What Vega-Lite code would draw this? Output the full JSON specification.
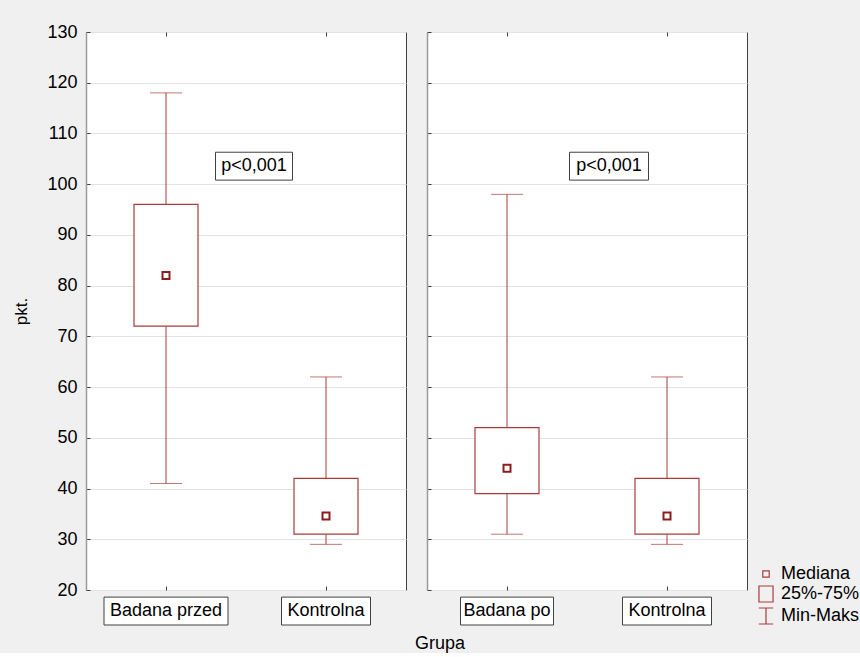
{
  "$schema": "https://vega.github.io/schema/vega-lite/v6.json",
  "background": "#f0f0f0",
  "padding": {"left": 12, "top": 22, "right": 0, "bottom": 0},
  "datasets": {
    "boxes": [
      {"panel": "A", "grp": "Badana przed", "min": 41, "q1": 72, "med": 82, "q3": 96, "max": 118},
      {"panel": "A", "grp": "Kontrolna", "min": 29, "q1": 31, "med": 34.6, "q3": 42, "max": 62},
      {"panel": "B", "grp": "Badana po", "min": 31, "q1": 39, "med": 44, "q3": 52, "max": 98},
      {"panel": "B", "grp": "Kontrolna", "min": 29, "q1": 31, "med": 34.6, "q3": 42, "max": 62}
    ],
    "annot": [{"label": "p<0,001"}],
    "leg": [{"leg": "Mediana"}, {"leg": "25%-75%"}, {"leg": "Min-Maks"}]
  },
  "title": {"text": "Grupa", "orient": "bottom", "anchor": "middle", "frame": "group", "fontSize": 18, "fontWeight": "normal", "color": "#000000", "offset": 8, "dx": 354},
  "spacing": 19,
  "hconcat": [
    {
      "width": 320,
      "height": 558,
      "resolve": {"axis": {"x": "independent"}},
      "layer": [
        {
          "layer": [
            {
              "data": {"name": "boxes"},
              "transform": [{"filter": "datum.panel === 'A'"}],
              "mark": {"type": "rule", "color": "#a83c3c", "strokeWidth": 1},
              "encoding": {
                "x": {"field": "grp", "type": "nominal", "sort": null, "title": null, "scale": {"paddingInner": 0, "paddingOuter": 0}},
                "y": {"field": "min", "type": "quantitative", "title": "pkt.", "scale": {"domain": [20, 130], "nice": false, "zero": false}},
                "y2": {"field": "max"}
              }
            },
            {
              "data": {"name": "boxes"},
              "transform": [{"filter": "datum.panel === 'A'"}],
              "mark": {"type": "tick", "color": "#a83c3c", "size": 32, "thickness": 1},
              "encoding": {
                "x": {"field": "grp", "type": "nominal", "sort": null, "title": null},
                "y": {"field": "min", "type": "quantitative", "title": "pkt."}
              }
            },
            {
              "data": {"name": "boxes"},
              "transform": [{"filter": "datum.panel === 'A'"}],
              "mark": {"type": "tick", "color": "#a83c3c", "size": 32, "thickness": 1},
              "encoding": {
                "x": {"field": "grp", "type": "nominal", "sort": null, "title": null},
                "y": {"field": "max", "type": "quantitative", "title": "pkt."}
              }
            },
            {
              "data": {"name": "boxes"},
              "transform": [{"filter": "datum.panel === 'A'"}],
              "mark": {"type": "bar", "width": 64, "fill": "#ffffff", "stroke": "#a83c3c", "strokeWidth": 1.2},
              "encoding": {
                "x": {"field": "grp", "type": "nominal", "sort": null, "title": null},
                "y": {"field": "q1", "type": "quantitative", "title": "pkt."},
                "y2": {"field": "q3"}
              }
            },
            {
              "data": {"name": "boxes"},
              "transform": [{"filter": "datum.panel === 'A'"}],
              "mark": {"type": "point", "shape": "square", "size": 49, "filled": false, "fill": "#ffffff", "stroke": "#8b1d1d", "strokeWidth": 2, "opacity": 1},
              "encoding": {
                "x": {"field": "grp", "type": "nominal", "sort": null, "title": null},
                "y": {"field": "med", "type": "quantitative", "title": "pkt."}
              }
            },
            {
              "data": {"name": "boxes"},
              "transform": [{"filter": "datum.panel === 'A' && datum.grp === 'Badana przed'"}],
              "mark": {"type": "bar", "width": 124, "fill": "#ffffff", "stroke": "#404040", "strokeWidth": 1},
              "encoding": {
                "x": {"field": "grp", "type": "nominal", "sort": null, "title": null},
                "y": {"datum": 18.6, "type": "quantitative", "title": "pkt."},
                "y2": {"datum": 13.1}
              }
            },
            {
              "data": {"name": "boxes"},
              "transform": [{"filter": "datum.panel === 'A' && datum.grp === 'Kontrolna'"}],
              "mark": {"type": "bar", "width": 89, "fill": "#ffffff", "stroke": "#404040", "strokeWidth": 1},
              "encoding": {
                "x": {"field": "grp", "type": "nominal", "sort": null, "title": null},
                "y": {"datum": 18.6, "type": "quantitative", "title": "pkt."},
                "y2": {"datum": 13.1}
              }
            },
            {
              "data": {"name": "boxes"},
              "transform": [{"filter": "datum.panel === 'A'"}],
              "mark": {"type": "text", "fontSize": 18, "color": "#000000", "baseline": "middle", "align": "center"},
              "encoding": {
                "x": {"field": "grp", "type": "nominal", "sort": null, "title": null},
                "y": {"datum": 15.85, "type": "quantitative", "title": "pkt."},
                "text": {"field": "grp"}
              }
            },
            {
              "data": {"name": "annot"},
              "mark": {"type": "bar", "width": 77, "xOffset": 88, "fill": "#ffffff", "stroke": "#404040", "strokeWidth": 1},
              "encoding": {
                "x": {"datum": "Badana przed", "type": "nominal", "title": null},
                "y": {"datum": 106.3, "type": "quantitative", "title": "pkt."},
                "y2": {"datum": 100.8}
              }
            }
          ]
        },
        {
          "data": {"name": "annot"},
          "mark": {"type": "text", "dx": 88, "fontSize": 18, "color": "#000000", "baseline": "middle", "align": "center"},
          "encoding": {
            "x": {"datum": "Badana przed", "type": "nominal", "title": null, "axis": {"orient": "top"}},
            "y": {"datum": 103.55, "type": "quantitative", "title": "pkt."},
            "text": {"field": "label"}
          }
        }
      ]
    },
    {
      "width": 320,
      "height": 558,
      "resolve": {"axis": {"x": "independent"}},
      "layer": [
        {
          "layer": [
            {
              "data": {"name": "boxes"},
              "transform": [{"filter": "datum.panel === 'B'"}],
              "mark": {"type": "rule", "color": "#a83c3c", "strokeWidth": 1},
              "encoding": {
                "x": {"field": "grp", "type": "nominal", "sort": null, "title": null, "scale": {"paddingInner": 0, "paddingOuter": 0}},
                "y": {"field": "min", "type": "quantitative", "title": null, "axis": {"labels": false}, "scale": {"domain": [20, 130], "nice": false, "zero": false}},
                "y2": {"field": "max"}
              }
            },
            {
              "data": {"name": "boxes"},
              "transform": [{"filter": "datum.panel === 'B'"}],
              "mark": {"type": "tick", "color": "#a83c3c", "size": 32, "thickness": 1},
              "encoding": {
                "x": {"field": "grp", "type": "nominal", "sort": null, "title": null},
                "y": {"field": "min", "type": "quantitative", "title": null, "axis": {"labels": false}}
              }
            },
            {
              "data": {"name": "boxes"},
              "transform": [{"filter": "datum.panel === 'B'"}],
              "mark": {"type": "tick", "color": "#a83c3c", "size": 32, "thickness": 1},
              "encoding": {
                "x": {"field": "grp", "type": "nominal", "sort": null, "title": null},
                "y": {"field": "max", "type": "quantitative", "title": null, "axis": {"labels": false}}
              }
            },
            {
              "data": {"name": "boxes"},
              "transform": [{"filter": "datum.panel === 'B'"}],
              "mark": {"type": "bar", "width": 64, "fill": "#ffffff", "stroke": "#a83c3c", "strokeWidth": 1.2},
              "encoding": {
                "x": {"field": "grp", "type": "nominal", "sort": null, "title": null},
                "y": {"field": "q1", "type": "quantitative", "title": null, "axis": {"labels": false}},
                "y2": {"field": "q3"}
              }
            },
            {
              "data": {"name": "boxes"},
              "transform": [{"filter": "datum.panel === 'B'"}],
              "mark": {"type": "point", "shape": "square", "size": 49, "filled": false, "fill": "#ffffff", "stroke": "#8b1d1d", "strokeWidth": 2, "opacity": 1},
              "encoding": {
                "x": {"field": "grp", "type": "nominal", "sort": null, "title": null},
                "y": {"field": "med", "type": "quantitative", "title": null, "axis": {"labels": false}}
              }
            },
            {
              "data": {"name": "boxes"},
              "transform": [{"filter": "datum.panel === 'B' && datum.grp === 'Badana po'"}],
              "mark": {"type": "bar", "width": 93, "fill": "#ffffff", "stroke": "#404040", "strokeWidth": 1},
              "encoding": {
                "x": {"field": "grp", "type": "nominal", "sort": null, "title": null},
                "y": {"datum": 18.6, "type": "quantitative", "title": null, "axis": {"labels": false}},
                "y2": {"datum": 13.1}
              }
            },
            {
              "data": {"name": "boxes"},
              "transform": [{"filter": "datum.panel === 'B' && datum.grp === 'Kontrolna'"}],
              "mark": {"type": "bar", "width": 89, "fill": "#ffffff", "stroke": "#404040", "strokeWidth": 1},
              "encoding": {
                "x": {"field": "grp", "type": "nominal", "sort": null, "title": null},
                "y": {"datum": 18.6, "type": "quantitative", "title": null, "axis": {"labels": false}},
                "y2": {"datum": 13.1}
              }
            },
            {
              "data": {"name": "boxes"},
              "transform": [{"filter": "datum.panel === 'B'"}],
              "mark": {"type": "text", "fontSize": 18, "color": "#000000", "baseline": "middle", "align": "center"},
              "encoding": {
                "x": {"field": "grp", "type": "nominal", "sort": null, "title": null},
                "y": {"datum": 15.85, "type": "quantitative", "title": null, "axis": {"labels": false}},
                "text": {"field": "grp"}
              }
            },
            {
              "data": {"name": "annot"},
              "mark": {"type": "bar", "width": 79, "xOffset": 102, "fill": "#ffffff", "stroke": "#404040", "strokeWidth": 1},
              "encoding": {
                "x": {"datum": "Badana po", "type": "nominal", "title": null},
                "y": {"datum": 106.3, "type": "quantitative", "title": null, "axis": {"labels": false}},
                "y2": {"datum": 100.8}
              }
            },
            {
              "data": {"name": "leg"},
              "mark": {"type": "point", "opacity": 0, "filled": false},
              "encoding": {
                "x": {"datum": "Kontrolna", "type": "nominal", "title": null},
                "y": {"datum": 40, "type": "quantitative", "title": null, "axis": {"labels": false}},
                "shape": {
                  "field": "leg",
                  "type": "nominal",
                  "sort": null,
                  "scale": {
                    "domain": ["Mediana", "25%-75%", "Min-Maks"],
                    "range": ["M-0.4,-0.4H0.4V0.4H-0.4Z", "M-0.88,-1H0.88V1H-0.88Z", "M-0.9,-1H0.9M0,-1V1M-0.9,1H0.9"]
                  },
                  "legend": {
                    "title": null,
                    "orient": "none",
                    "legendX": 671,
                    "legendY": 533,
                    "symbolSize": 256,
                    "symbolOpacity": 1,
                    "symbolStrokeColor": "#a83c3c",
                    "symbolFillColor": "transparent",
                    "symbolStrokeWidth": 1.2,
                    "labelFontSize": 18,
                    "labelColor": "#000000",
                    "labelOffset": 6,
                    "rowPadding": 0,
                    "labelLimit": 200
                  }
                }
              }
            }
          ]
        },
        {
          "data": {"name": "annot"},
          "mark": {"type": "text", "dx": 102, "fontSize": 18, "color": "#000000", "baseline": "middle", "align": "center"},
          "encoding": {
            "x": {"datum": "Badana po", "type": "nominal", "title": null, "axis": {"orient": "top"}},
            "y": {"datum": 103.55, "type": "quantitative", "title": null, "axis": {"labels": false}},
            "text": {"field": "label"}
          }
        }
      ]
    }
  ],
  "config": {
    "font": "Liberation Sans",
    "view": {"stroke": "#404040", "strokeWidth": 1, "fill": "#ffffff"},
    "axisX": {"labels": false, "domain": false, "grid": false, "ticks": true, "tickSize": -4, "tickColor": "#404040", "tickWidth": 1},
    "axisY": {
      "values": [20, 30, 40, 50, 60, 70, 80, 90, 100, 110, 120, 130],
      "grid": true,
      "gridColor": "#e2e2e2",
      "gridWidth": 1,
      "domain": true,
      "domainColor": "#9a9a9a",
      "domainWidth": 1.5,
      "ticks": true,
      "tickSize": -4,
      "tickColor": "#404040",
      "labelPadding": 13,
      "labelFontSize": 18,
      "labelColor": "#000000",
      "titleFontSize": 17,
      "titleFontWeight": "normal",
      "titleColor": "#000000",
      "titlePadding": 16
    }
  }
}
